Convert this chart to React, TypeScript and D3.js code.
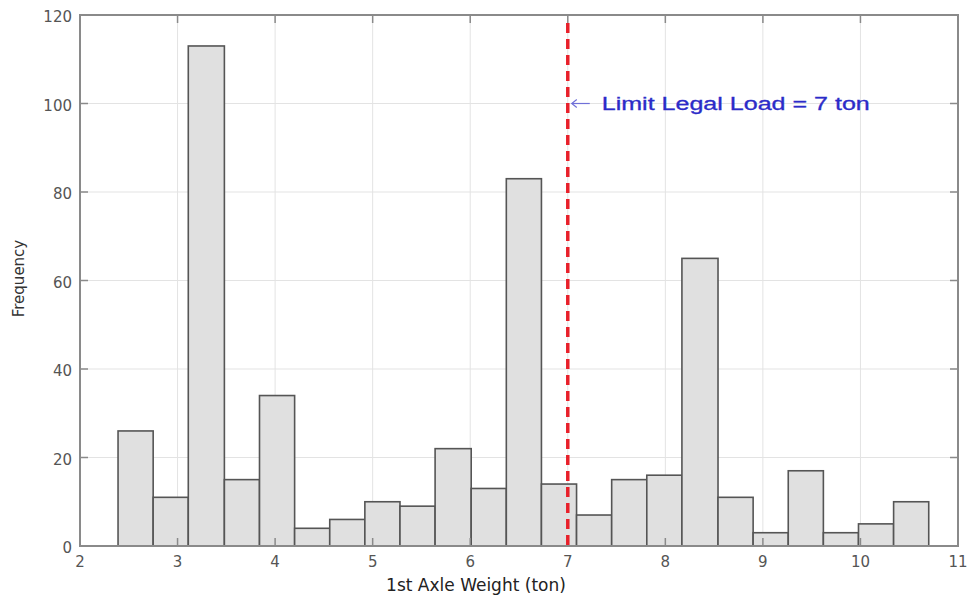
import React from "react";
import * as d3 from "d3";

const binEdges = [2.39, 2.75, 3.11, 3.48, 3.84, 4.2, 4.56, 4.92, 5.28, 5.64, 6.01, 6.37, 6.73, 7.09, 7.45, 7.81, 8.17, 8.54, 8.9, 9.26, 9.62, 9.98, 10.34, 10.7];
const counts = [26, 11, 113, 15, 34, 4, 6, 10, 9, 22, 13, 83, 14, 7, 15, 16, 65, 11, 3, 17, 3, 5, 10];
const xTicks = [2, 3, 4, 5, 6, 7, 8, 9, 10, 11];
const yTicks = [0, 20, 40, 60, 80, 100, 120];
const limitValue = 7;
const limitLabel = "Limit Legal Load = 7 ton";
const xLabel = "1st Axle Weight (ton)";
const yLabel = "Frequency";

export default function App() {
  const W = 969, H = 598;
  const left = 80, right = 958, top = 15, bottom = 546;
  const x = d3.scaleLinear().domain([2, 11]).range([left, right]);
  const y = d3.scaleLinear().domain([0, 120]).range([bottom, top]);
  const font = "'DejaVu Sans', Verdana, sans-serif";
  const arial = "Arial, 'Liberation Sans', sans-serif";
  const axisColor = "#8a8a8a";
  const tickLen = 8;
  return (
    <svg width={W} height={H} style={{ position: "absolute", left: 0, top: 0, background: "#fff" }}>
      <rect x={0} y={0} width={W} height={H} fill="#fff" />
      {/* grid */}
      {xTicks.slice(1, -1).map((t) => (
        <line key={"gx" + t} x1={x(t)} x2={x(t)} y1={top} y2={bottom} stroke="#e3e3e3" strokeWidth={1} />
      ))}
      {yTicks.slice(1, -1).map((t) => (
        <line key={"gy" + t} x1={left} x2={right} y1={y(t)} y2={y(t)} stroke="#e3e3e3" strokeWidth={1} />
      ))}
      {/* bars */}
      {counts.map((c, i) => (
        <rect
          key={"b" + i}
          x={x(binEdges[i])}
          y={y(c)}
          width={x(binEdges[i + 1]) - x(binEdges[i])}
          height={y(0) - y(c)}
          fill="#e0e0e0"
          stroke="#555"
          strokeWidth={1.6}
        />
      ))}
      {/* ticks */}
      {xTicks.map((t) => (
        <g key={"tx" + t}>
          <line x1={x(t)} x2={x(t)} y1={bottom} y2={bottom - tickLen} stroke={axisColor} strokeWidth={1.5} />
          <line x1={x(t)} x2={x(t)} y1={top} y2={top + tickLen} stroke={axisColor} strokeWidth={1.5} />
          <text x={x(t)} y={bottom + 21} textAnchor="middle" fontFamily={font} fontSize={15} fill="#555">
            {t}
          </text>
        </g>
      ))}
      {yTicks.map((t) => (
        <g key={"ty" + t}>
          <line x1={left} x2={left + tickLen} y1={y(t)} y2={y(t)} stroke={axisColor} strokeWidth={1.5} />
          <line x1={right} x2={right - tickLen} y1={y(t)} y2={y(t)} stroke={axisColor} strokeWidth={1.5} />
          <text x={left - 8} y={y(t) + 7} textAnchor="end" fontFamily={font} fontSize={15} fill="#555">
            {t}
          </text>
        </g>
      ))}
      {/* box */}
      <rect x={left} y={top} width={right - left} height={bottom - top} fill="none" stroke={axisColor} strokeWidth={2} />
      {/* limit line */}
      <line
        x1={x(limitValue)}
        x2={x(limitValue)}
        y1={top + 8}
        y2={bottom}
        stroke="#e8202a"
        strokeWidth={3.5}
        strokeDasharray="10 6"
      />
      <g>
        <line x1={x(limitValue) + 4} x2={x(limitValue) + 22} y1={y(100)} y2={y(100)} stroke="#7070d8" strokeWidth={1.2} />
        <path
          d={`M${x(limitValue) + 9},${y(100) - 4} L${x(limitValue) + 4},${y(100)} L${x(limitValue) + 9},${y(100) + 4}`}
          fill="none"
          stroke="#7070d8"
          strokeWidth={1.2}
        />
        <text
          x={x(limitValue) + 34}
          y={y(100) + 6.5}
          fontFamily={arial}
          fontSize={17.5}
          fill="#2b2bc8"
          stroke="#2b2bc8"
          strokeWidth={0.3}
          textLength={268}
          lengthAdjust="spacingAndGlyphs"
        >
          {limitLabel}
        </text>
      </g>
      {/* labels */}
      <text x={476} y={591} textAnchor="middle" fontFamily={font} fontSize={17} fill="#222">
        {xLabel}
      </text>
      <text
        transform={`translate(24, ${(top + bottom) / 2 - 2}) rotate(-90)`}
        textAnchor="middle"
        fontFamily={font}
        fontSize={15}
        fill="#333"
      >
        {yLabel}
      </text>
    </svg>
  );
}
